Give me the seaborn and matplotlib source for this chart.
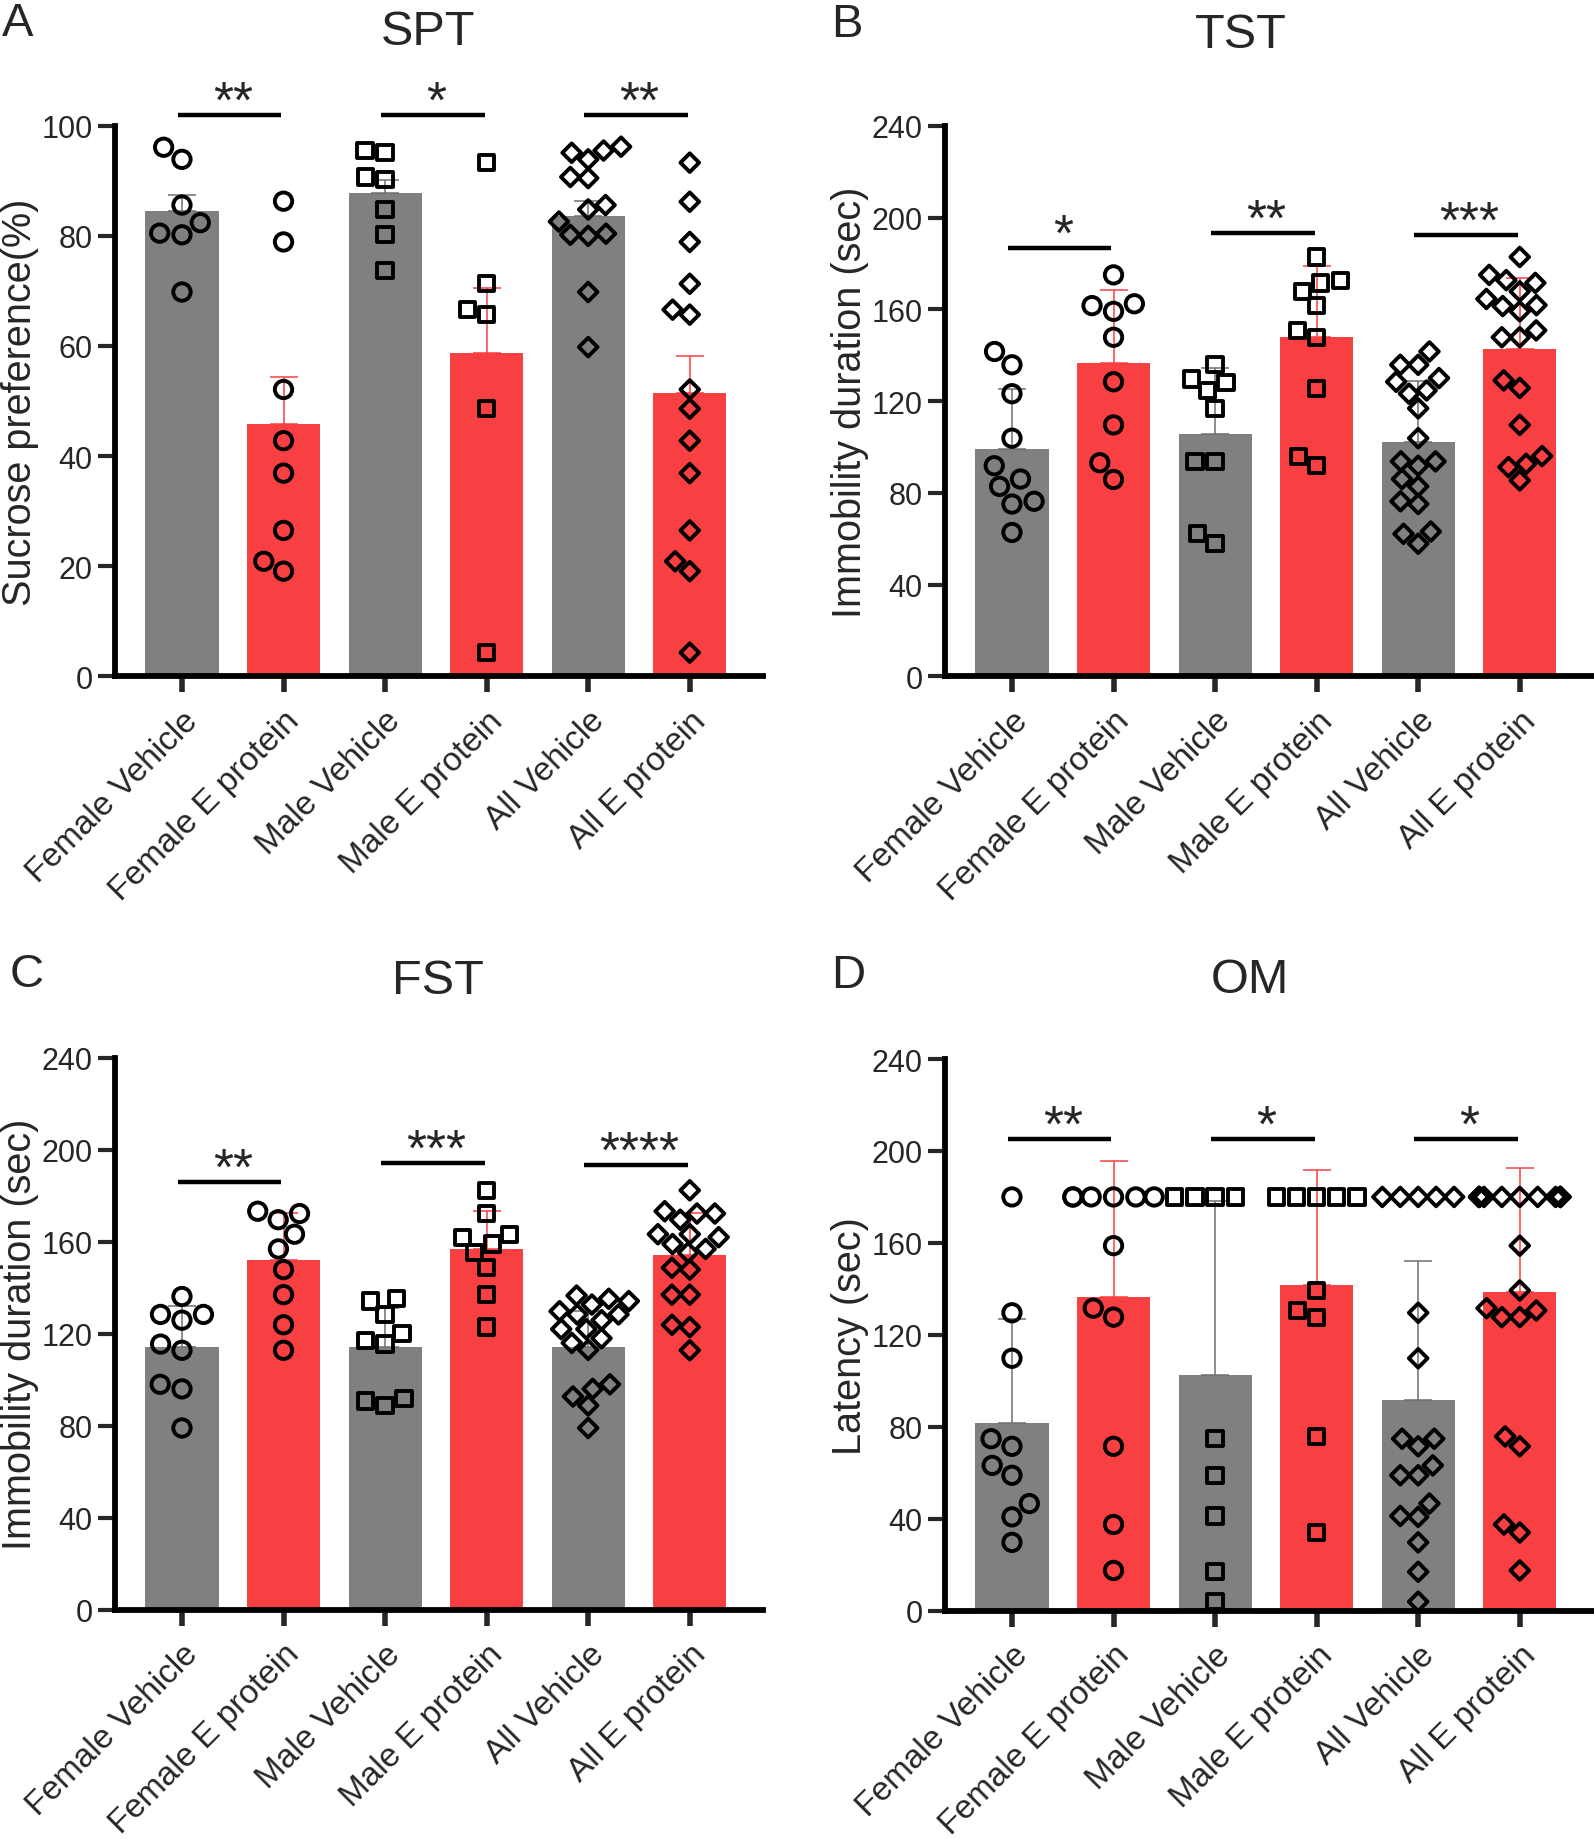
import matplotlib
matplotlib.use("Agg")
import matplotlib.pyplot as plt
import numpy as np
import pandas as pd
import seaborn as sns

groups = ["Female Vehicle", "Female E protein", "Male Vehicle",
          "Male E protein", "All Vehicle", "All E protein"]
sexes = ["Female", "Female", "Male", "Male", "All", "All"]

# ---- SPT ----
spt_fv = [96.1, 93.9, 85.6, 82.4, 80.5, 80.2, 69.8]
spt_fe = [86.3, 78.9, 52.1, 42.8, 36.9, 26.5, 20.9, 19.1]
spt_mv = [95.5, 95.1, 90.7, 90.2, 84.8, 80.2, 73.7]
spt_me = [93.3, 71.3, 66.6, 65.7, 48.6, 4.3]
spt_av = [96.2, 95.5, 95.1, 93.9, 90.7, 90.5, 85.6, 84.8, 82.6, 80.4, 80.2, 80.0, 69.8, 59.8]
spt_ae = [93.3, 86.2, 78.9, 71.3, 66.6, 65.7, 52.1, 48.6, 42.8, 36.9, 26.5, 20.9, 19.1, 4.3]
spt_mean = [84.5, 45.9, 87.7, 58.8, 83.6, 51.4]
spt_err = [2.9, 8.5, 2.5, 11.7, 2.8, 6.8]
spt_sig = ["**", "*", "**"]
spt_sig_y = [102, 102, 102]

# ---- TST ----
tst_fv = [141.6, 135.8, 123.2, 103.8, 91.8, 86.0, 82.8, 76.3, 75.1, 62.7]
tst_fe = [175.0, 162.4, 161.6, 159.1, 147.8, 128.4, 109.6, 93.1, 85.8]
tst_mv = [135.8, 129.6, 128.1, 124.6, 116.8, 93.7, 93.7, 62.1, 57.8]
tst_me = [182.8, 172.7, 171.5, 167.8, 161.8, 150.8, 147.8, 125.5, 95.7, 91.8]
tst_av = [141.6, 135.8, 135.8, 130.0, 128.4, 124.6, 123.2, 116.8, 103.8, 93.7,
          93.7, 91.8, 86.0, 82.8, 76.3, 75.1, 63.1, 62.1, 57.8]
tst_ae = [182.8, 175.0, 172.7, 171.5, 167.8, 164.5, 161.8, 161.4, 159.1, 150.8,
          147.8, 147.8, 129.0, 125.7, 109.6, 96.0, 92.6, 91.2, 85.4]
tst_mean = [99.0, 136.8, 105.7, 148.0, 102.3, 142.6]
tst_err = [26.1, 31.8, 28.6, 30.9, 26.3, 31.2]
tst_sig = ["*", "**", "***"]
tst_sig_y = [186.8, 193.1, 192.4]

# ---- FST ----
fst_fv = [136.2, 128.4, 128.4, 125.9, 115.5, 112.8, 98.0, 96.0, 79.0]
fst_fe = [173.3, 172.3, 169.6, 163.3, 156.9, 147.9, 137.0, 123.9, 112.8]
fst_mv = [135.2, 134.2, 128.4, 120.0, 117.1, 115.5, 91.7, 90.7, 88.8]
fst_me = [182.4, 172.3, 163.3, 162.0, 159.0, 155.3, 148.7, 137.0, 122.9]
fst_av = [136.6, 135.2, 134.2, 132.7, 129.8, 128.4, 128.4, 125.9, 122.0, 122.0,
          118.0, 116.0, 113.0, 98.0, 96.0, 92.7, 88.8, 79.0]
fst_ae = [182.4, 173.3, 172.3, 172.3, 169.6, 163.3, 163.3, 162.0, 159.0, 156.9,
          155.3, 148.7, 147.9, 137.0, 137.0, 123.9, 122.9, 112.8]
fst_mean = [114.1, 152.0, 114.1, 156.7, 114.1, 154.1]
fst_err = [18.0, 20.7, 17.0, 16.6, 16.0, 18.6]
fst_sig = ["**", "***", "****"]
fst_sig_y = [186.0, 194.1, 193.2]

# ---- OM ----
om_fv = [180, 129.6, 109.8, 74.8, 71.5, 63.2, 58.9, 46.6, 40.8, 29.7]
om_fe = [180, 180, 180, 180, 180, 180, 158.8, 131.6, 127.7, 71.5, 37.5, 17.5]
om_mv = [180, 180, 180, 180, 74.8, 58.9, 41.2, 16.9, 3.9]
om_me = [180, 180, 180, 180, 180, 139.3, 130.6, 127.7, 75.8, 34.0]
om_av = [180, 180, 180, 180, 180, 129.6, 109.8, 74.8, 74.8, 71.5, 63.2, 58.9,
         58.9, 46.6, 41.2, 40.8, 29.7, 16.9, 3.9]
om_ae = [180, 180, 180, 180, 180, 180, 180, 180, 180, 180, 180, 158.8, 139.3,
         131.6, 130.6, 127.7, 127.7, 75.8, 71.5, 37.5, 34.0, 17.5]
om_mean = [81.6, 136.6, 102.4, 141.5, 91.7, 138.6]
om_err = [45.1, 58.9, 76.0, 50.3, 60.5, 54.2]
om_sig = ["**", "*", "*"]
om_sig_y = [205, 205, 205]

GRAY = "#808080"
RED = "#F84043"
bar_colors = [GRAY, RED, GRAY, RED, GRAY, RED]
err_colors = ["#6f6f6f", RED]
markers = {"Female": ("o", 12.5), "Male": ("s", 11.0), "All": ("D", 9.5)}

sns.set_style("ticks")
plt.rcParams["font.family"] = ["Liberation Sans", "DejaVu Sans"]


def draw_panel(ax, points, means, errs, sig, sig_y, ymax, ystep, ylabel):
    rows = []
    for g, s, vals in zip(groups, sexes, points):
        for v in vals:
            rows.append((g, s, v))
    df = pd.DataFrame(rows, columns=["group", "sex", "value"])

    sns.barplot(x=groups, y=means, hue=groups, palette=bar_colors,
                width=0.72, errorbar=None, saturation=1, legend=False,
                linewidth=0, ax=ax, zorder=1)

    x = np.arange(len(groups))
    for k in range(2):
        idx = x[k::2]
        m = np.array(means)[idx]
        e = np.array(errs)[idx]
        ax.errorbar(idx, m, yerr=[np.zeros_like(e), e], fmt="none",
                    ecolor=err_colors[k], elinewidth=1.1, capsize=10.4,
                    capthick=1.1, zorder=2)

    for sex, (mk, sz) in markers.items():
        sub = df[df["sex"] == sex]
        sns.swarmplot(data=sub, x="group", y="value", order=groups,
                      marker=mk, size=sz, color="black", facecolor="none",
                      edgecolor="black", linewidth=2.8, ax=ax, zorder=4,
                      warn_thresh=1)

    for i, (txt, yy) in enumerate(zip(sig, sig_y)):
        a, b = 2 * i, 2 * i + 1
        ax.plot([a - 0.04, b - 0.02], [yy, yy], color="black", lw=3.2,
                clip_on=False, solid_capstyle="butt")
        ax.annotate(txt, xy=((a + b) / 2, yy), xytext=(0, -9),
                    textcoords="offset points", ha="center", va="bottom",
                    fontsize=37, annotation_clip=False)

    ax.set_xlim(-0.66, 5.72)
    ax.set_ylim(0, ymax)
    ax.set_yticks(np.arange(0, ymax + 1, ystep))
    ax.set_xticks(x)
    ax.set_xticklabels(groups, rotation=45, ha="right", va="top",
                       rotation_mode="anchor", fontsize=24)
    ax.tick_params(axis="y", labelsize=22, length=12, width=3, pad=4)
    ax.tick_params(axis="x", length=11.5, width=4, pad=9)
    ax.set_xlabel("")
    ax.set_ylabel(ylabel, fontsize=28.5)
    ax.yaxis.set_label_coords(-0.117, 0.5)
    sns.despine(ax=ax)
    for sp in ["left", "bottom"]:
        ax.spines[sp].set_linewidth(4.2)
        ax.spines[sp].set_color("black")


fig = plt.figure(figsize=(15.94, 18.40), dpi=100)
axA = fig.add_axes([0.0721, 0.6319, 0.4065, 0.2992])
axB = fig.add_axes([0.5928, 0.6319, 0.4065, 0.2992])
axC = fig.add_axes([0.0721, 0.1247, 0.4065, 0.2998])
axD = fig.add_axes([0.5928, 0.1241, 0.4065, 0.2998])

draw_panel(axA, [spt_fv, spt_fe, spt_mv, spt_me, spt_av, spt_ae],
           spt_mean, spt_err, spt_sig, spt_sig_y, 100, 20,
           "Sucrose preference(%)")
draw_panel(axB, [tst_fv, tst_fe, tst_mv, tst_me, tst_av, tst_ae],
           tst_mean, tst_err, tst_sig, tst_sig_y, 240, 40,
           "Immobility duration (sec)")
draw_panel(axC, [fst_fv, fst_fe, fst_mv, fst_me, fst_av, fst_ae],
           fst_mean, fst_err, fst_sig, fst_sig_y, 240, 40,
           "Immobility duration (sec)")
draw_panel(axD, [om_fv, om_fe, om_mv, om_me, om_av, om_ae],
           om_mean, om_err, om_sig, om_sig_y, 240, 40,
           "Latency (sec)")

fig.text(0.2685, 0.9822, "SPT", fontsize=35, ha="center", va="center")
fig.text(0.7785, 0.9806, "TST", fontsize=35, ha="center", va="center")
fig.text(0.2748, 0.4665, "FST", fontsize=35, ha="center", va="center")
fig.text(0.7842, 0.4670, "OM", fontsize=35, ha="center", va="center")

fig.text(0.0013, 0.9869, "A", fontsize=34, ha="left", va="center")
fig.text(0.5213, 0.9866, "B", fontsize=34, ha="left", va="center")
fig.text(0.0059, 0.4703, "C", fontsize=34, ha="left", va="center")
fig.text(0.5213, 0.4697, "D", fontsize=34, ha="left", va="center")

fig.savefig("out.png", dpi=100)
